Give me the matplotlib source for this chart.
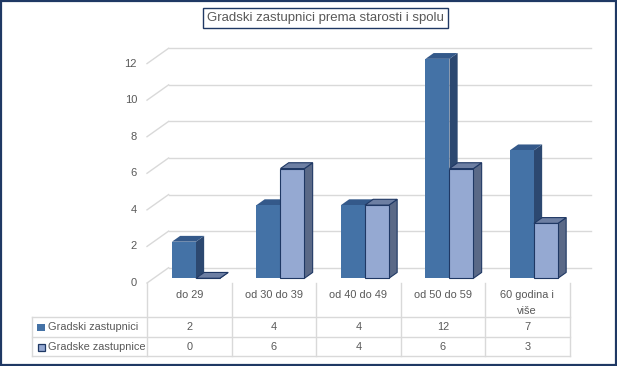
import matplotlib
matplotlib.use('Agg')
import matplotlib.pyplot as plt
from matplotlib.patches import Polygon, Rectangle
from matplotlib.transforms import blended_transform_factory

categories = ['do 29', 'od 30 do 39', 'od 40 do 49', 'od 50 do 59', '60 godina i\nviše']
series_names = ['Gradski zastupnici', 'Gradske zastupnice']
male = [2, 4, 4, 12, 7]
female = [0, 6, 4, 6, 3]
yticks = [0, 2, 4, 6, 8, 10, 12]
title = 'Gradski zastupnici prema starosti i spolu'

plt.rcParams['font.family'] = ['Liberation Sans', 'DejaVu Sans']

W, H = 617, 366
fig = plt.figure(figsize=(W / 100, H / 100), dpi=100)
fig.patch.set_facecolor('white')

# pixel overlay axes
ov = fig.add_axes([0, 0, 1, 1])
ov.set_xlim(0, W)
ov.set_ylim(H, 0)
ov.axis('off')

# data axes (front plane)
x0, x1, yb, yt = 147, 569.5, 283, 63.6
ax = fig.add_axes([x0 / W, 1 - yb / H, (x1 - x0) / W, (yb - yt) / H])
ax.set_xlim(0, len(categories))
ax.set_ylim(0, 12)
ax.axis('off')

DX = 21.6 / ((x1 - x0) / len(categories))
DY = 15.3 / ((yb - yt) / 12)

GRID = '#D9D9D9'
TXT = '#595959'
NAVY = '#1F3864'

# walls gridlines
for v in yticks:
    ax.plot([0, DX], [v, v + DY], color=GRID, lw=1.0, clip_on=False, zorder=1)
    ax.plot([DX, len(categories) + DX], [v + DY, v + DY], color=GRID, lw=1.0,
            clip_on=False, zorder=1)

# y tick labels
tr_y = blended_transform_factory(ov.transData, ax.transData)
for v in yticks:
    ax.text(137, v, str(v), transform=tr_y, ha='right', va='center',
            fontsize=8, color=TXT)

# bars
d0, d1 = 0.31, 0.69
bw = 0.284
styles = [
    dict(front='#4472A6', top='#34598A', side='#2C4870', edge=None),
    dict(front='#95A9D2', top='#6D7FA3', side='#5A6987', edge=NAVY),
]


def draw_bar(xl, v, st, z):
    fx = xl + d0 * DX
    fy = d0 * DY
    ddx = (d1 - d0) * DX
    ddy = (d1 - d0) * DY
    ec = st['edge'] if st['edge'] else 'none'
    lw = 0.8 if st['edge'] else 0
    front = Polygon([(fx, fy), (fx + bw, fy), (fx + bw, fy + v), (fx, fy + v)],
                    closed=True, fc=st['front'], ec=ec, lw=lw, clip_on=False,
                    zorder=z, joinstyle='miter')
    side = Polygon([(fx + bw, fy), (fx + bw + ddx, fy + ddy),
                    (fx + bw + ddx, fy + ddy + v), (fx + bw, fy + v)],
                   closed=True, fc=st['side'], ec=ec, lw=lw, clip_on=False,
                   zorder=z, joinstyle='miter')
    top = Polygon([(fx, fy + v), (fx + bw, fy + v), (fx + bw + ddx, fy + v + ddy),
                   (fx + ddx, fy + v + ddy)],
                  closed=True, fc=st['top'], ec=ec, lw=lw, clip_on=False,
                  zorder=z, joinstyle='miter')
    for p in (side, top, front):
        ax.add_patch(p)


for i in range(len(categories)):
    c = i + 0.5
    draw_bar(c - bw, male[i], styles[0], 3 + 2 * i)
    draw_bar(c, female[i], styles[1], 4 + 2 * i)

# data table
tr_t = blended_transform_factory(ax.transData, ov.transData)
ty0, ty1, ty2, ty3 = 283, 317.3, 336.7, 356
tleft = 32
for i in range(len(categories) + 1):
    ax.plot([i, i], [ty0, ty3], color=GRID, lw=1.0, transform=tr_t,
            clip_on=False, zorder=1)
ov.plot([tleft, tleft], [ty1, ty3], color=GRID, lw=1.0)
for yy in (ty1, ty2, ty3):
    ov.plot([tleft, x1], [yy, yy], color=GRID, lw=1.0)

for i, cat in enumerate(categories):
    ax.text(i + 0.5, 289.5, cat, transform=tr_t, ha='center', va='top',
            fontsize=7.9, color=TXT, linespacing=1.75)
    ax.text(i + 0.5, (ty1 + ty2) / 2 + 0.5, str(male[i]), transform=tr_t,
            ha='center', va='center', fontsize=7.9, color=TXT)
    ax.text(i + 0.5, (ty2 + ty3) / 2 + 0.5, str(female[i]), transform=tr_t,
            ha='center', va='center', fontsize=7.9, color=TXT)

# legend keys in table
ov.add_patch(Rectangle((37, 324.3), 8, 7, fc=styles[0]['front'], ec='none'))
ov.add_patch(Rectangle((37.5, 343.5), 7.5, 7, fc=styles[1]['front'], ec=NAVY, lw=0.9))
ov.text(48, (ty1 + ty2) / 2 + 0.5, series_names[0], ha='left', va='center',
        fontsize=7.9, color=TXT)
ov.text(48, (ty2 + ty3) / 2 + 0.5, series_names[1], ha='left', va='center',
        fontsize=7.9, color=TXT)

# title with box
ov.add_patch(Rectangle((203, 8), 245, 20, fc='white', ec=NAVY, lw=1.0))
ov.text(325.5, 18.5, title, ha='center', va='center', fontsize=9.5, color=TXT)

# outer border
ov.add_patch(Rectangle((1, 1), W - 2, H - 2, fc='none', ec=NAVY, lw=1.6))

fig.savefig('out.png', dpi=100)
